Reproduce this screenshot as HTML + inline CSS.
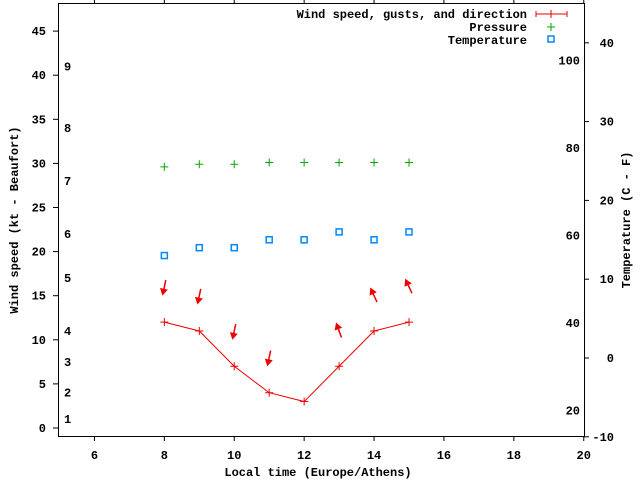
<!DOCTYPE html>
<html><head><meta charset="utf-8"><style>
body{margin:0;background:#fff}
svg text{font-family:"Liberation Mono","DejaVu Sans Mono",monospace;font-size:12px;font-weight:bold;fill:#000}
</style></head><body>
<svg id="c" width="640" height="480" viewBox="0 0 640 480" xmlns="http://www.w3.org/2000/svg">
<rect x="58.5" y="3.5" width="526" height="433" fill="none" stroke="#000"/>
<g id="ax"></g><g id="marks"></g>
<text x="318" y="476" text-anchor="middle">Local time (Europe/Athens)</text>
<text transform="translate(18,220) rotate(-90)" text-anchor="middle">Wind speed (kt - Beaufort)</text>
<text transform="translate(630,220) rotate(-90)" text-anchor="middle">Temperature (C - F)</text>
<g>
<text x="527" y="18" text-anchor="end">Wind speed, gusts, and direction</text>
<path d="M536 14H567M536 11v6M567 11v6M551 10v8" stroke="#e00" fill="none"/>
<text x="527" y="31" text-anchor="end">Pressure</text>
<path d="M547 27h8M551 23v8" stroke="#0a0"/>
<text x="527" y="44" text-anchor="end">Temperature</text>
<rect x="548" y="36" width="6" height="6" fill="none" stroke="#08f" stroke-width="1.5"/>
</g>
</svg>
<script>
const hours=[8,9,10,11,12,13,14,15];
const wind=[12,11,7,4,3,7,11,12];
const gusts=[16,15,11,8,null,11,15,16];
const dirAngle=[-12,-12,-12,-12,null,200,205,205];
const pressure=[29.6,29.9,29.9,30.1,30.1,30.1,30.1,30.1];
const temperature=[13,14,14,15,15,16,15,16];
const xTicks=[6,8,10,12,14,16,18,20];
const yTicks=[0,5,10,15,20,25,30,35,40,45];
const cTicks=[-10,0,10,20,30,40];
const fTicks=[20,40,60,80,100];
const beaufort=[[1,1],[2,4],[3,7.5],[4,11],[5,17],[6,22],[7,28],[8,34],[9,41]];
const X=v=>59.5+(v-5)*34.95;
const Y=v=>428-v*8.82;
const YC=c=>358-c*7.88;
const YF=f=>YC((f-32)*5/9);
const ns="http://www.w3.org/2000/svg";
const ax=document.getElementById('ax'),mk=document.getElementById('marks');
function el(p,t,a,txt){const e=document.createElementNS(ns,t);for(const k in a)e.setAttribute(k,a[k]);if(txt!=null)e.textContent=txt;p.appendChild(e);return e;}
xTicks.forEach(v=>{const x=X(v);
const t=el(ax,'path',{d:`M${x} 437v4M${x} 3v-4`,stroke:'#000'});


const l=el(ax,'text',{x:x,y:459,'text-anchor':'middle'},v);

});
yTicks.forEach(v=>{const y=Y(v);
const t=el(ax,'path',{d:`M53 ${y}h5`,stroke:'#000'});


const l=el(ax,'text',{x:46,y:y+4,'text-anchor':'end'},v);

});
cTicks.forEach(v=>{const y=YC(v);
const t=el(ax,'path',{d:`M584 ${y}h5`,stroke:'#000'});


const l=el(ax,'text',{x:614,y:y+4,'text-anchor':'end'},v);

});
fTicks.forEach(v=>{const l=el(ax,'text',{x:580,y:YF(v)+4,'text-anchor':'end'},v);

});
beaufort.forEach(([b,v])=>{const l=el(ax,'text',{x:64,y:Y(v)+4},b);

});
const line=el(mk,'polyline',{points:hours.map((h,i)=>X(h)+','+Y(wind[i])).join(' '),fill:'none',stroke:'#e00'});


function plus(x,y,c,n){const p=el(mk,'path',{d:`M${x-4} ${y}h8M${x} ${y-4}v8`,stroke:c});

}
hours.forEach((h,i)=>{
plus(X(h),Y(wind[i]),'#e00','wind-point');
plus(X(h),Y(pressure[i]),'#0a0','pressure-point');
const r=el(mk,'rect',{x:X(h)-3,y:YC(temperature[i])-3,width:6,height:6,fill:'none',stroke:'#08f','stroke-width':1.5});


if(gusts[i]!=null){const cx=X(h),cy=Y(gusts[i]),a=dirAngle[i]*Math.PI/180;
const dx=Math.sin(a)*7,dy=Math.cos(a)*7;
const g=el(mk,'g',{});


el(g,'line',{x1:cx-dx,y1:cy-dy,x2:cx+dx,y2:cy+dy,stroke:'#e00','stroke-width':1.5});
const hx=cx+dx,hy=cy+dy,ux=dx/7,uy=dy/7;
el(g,'polygon',{points:`${hx+ux*2},${hy+uy*2} ${hx-ux*5-uy*4},${hy-uy*5+ux*4} ${hx-ux*5+uy*4},${hy-uy*5-ux*4}`,fill:'#e00'});}
});
</script>
</body></html>
